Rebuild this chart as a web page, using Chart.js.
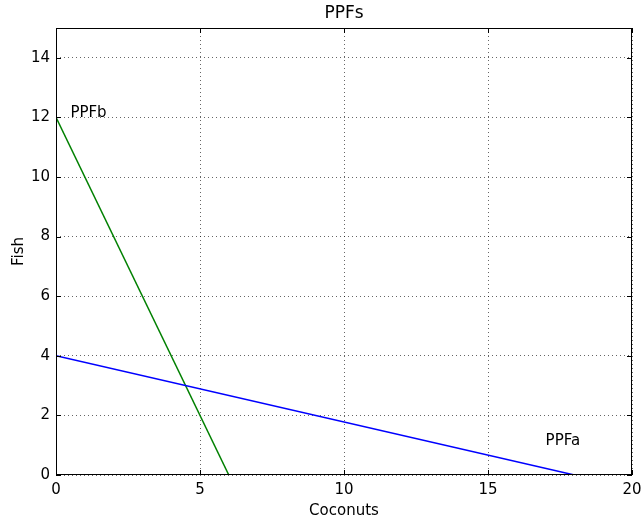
<!DOCTYPE html>
<html>
<head>
<meta charset="utf-8">
<script src="https://cdn.jsdelivr.net/npm/chart.js@4"></script>
<style>
  html, body { margin: 0; padding: 0; background: #fff; }
  canvas { display: block; }
</style>
</head>
<body>
<canvas id="chartPPF" width="644" height="521"></canvas>
<script>
// datos
const ppfaX = [0, 18]
const ppfaY = [4, 0]
const ppfbX = [0, 6]
const ppfbY = [12, 0]
const xTicks = [0, 5, 10, 15, 20]
const yTicks = [0, 2, 4, 6, 8, 10, 12, 14]
const notas = [
    { texto: 'PPFb', x: 0.5, y: 12 },
    { texto: 'PPFa', x: 17, y: 1 }
]

const fuente = 'DejaVu Sans'
const toPoints = (xs, ys) => xs.map((x, i) => ({ x: x, y: ys[i] }))

// marco, ticks hacia adentro, titulo y notas
const marcoPlugin = {
    id: 'marco',
    afterDatasetsDraw(chart) {
        const { ctx, chartArea: a, scales } = chart
        ctx.save()
        ctx.strokeStyle = '#000'
        ctx.lineWidth = 1
        ctx.strokeRect(a.left + 0.5, a.top + 0.5, a.right - a.left - 1, a.bottom - a.top - 1)

        const largo = 5
        ctx.beginPath()
        xTicks.forEach(v => {
            const px = Math.round(scales.x.getPixelForValue(v)) + 0.5
            ctx.moveTo(px, a.bottom); ctx.lineTo(px, a.bottom - largo)
            ctx.moveTo(px, a.top); ctx.lineTo(px, a.top + largo)
        })
        yTicks.forEach(v => {
            const py = Math.round(scales.y.getPixelForValue(v)) + 0.5
            ctx.moveTo(a.left, py); ctx.lineTo(a.left + largo, py)
            ctx.moveTo(a.right, py); ctx.lineTo(a.right - largo, py)
        })
        ctx.stroke()

        ctx.fillStyle = '#000'
        ctx.font = `15px "${fuente}"`
        ctx.textAlign = 'left'
        ctx.textBaseline = 'alphabetic'
        notas.forEach(n => {
            ctx.fillText(n.texto, scales.x.getPixelForValue(n.x), scales.y.getPixelForValue(n.y))
        })

        ctx.font = `17px "${fuente}"`
        ctx.textAlign = 'center'
        ctx.textBaseline = 'middle'
        ctx.fillText('PPFs', (a.left + a.right) / 2, 14)
        ctx.restore()
    }
}

const canvas = document.getElementById('chartPPF')
const context = canvas.getContext('2d')

const chartPPF = new Chart(context, {
    type: 'scatter',
    data: {
        datasets: [
            {
                label: 'PPFa',
                data: toPoints(ppfaX, ppfaY),
                showLine: true,
                borderColor: '#0000ff',
                borderWidth: 1.5,
                pointRadius: 0,
                fill: false
            },
            {
                label: 'PPFb',
                data: toPoints(ppfbX, ppfbY),
                showLine: true,
                borderColor: '#008000',
                borderWidth: 1.5,
                pointRadius: 0,
                fill: false
            }
        ]
    },
    options: {
        responsive: false,
        animation: false,
        layout: { padding: { top: 28, right: 12, left: 0, bottom: 0 } },
        plugins: {
            legend: { display: false },
            title: { display: false },
            tooltip: { enabled: false }
        },
        scales: {
            x: {
                type: 'linear',
                min: 0,
                max: 20,
                afterBuildTicks: s => { s.ticks = xTicks.map(v => ({ value: v })) },
                afterFit: s => {
                    s.height = 46
                    s.paddingLeft = 0
                    s.paddingRight = 0
                },
                border: { display: false, dash: [1, 3] },
                grid: {
                    color: 'rgba(0,0,0,0.6)',
                    lineWidth: 1,
                    drawTicks: false
                },
                ticks: {
                    color: '#000',
                    padding: 6,
                    maxRotation: 0,
                    font: { family: fuente, size: 15 }
                },
                title: {
                    display: true,
                    text: 'Coconuts',
                    color: '#000',
                    padding: { top: 0, bottom: 1 },
                    font: { family: fuente, size: 15 }
                }
            },
            y: {
                type: 'linear',
                min: 0,
                max: 15,
                afterBuildTicks: s => { s.ticks = yTicks.map(v => ({ value: v })) },
                afterFit: s => {
                    s.width = 56
                    s.paddingTop = 0
                    s.paddingBottom = 0
                },
                border: { display: false, dash: [1, 3] },
                grid: {
                    color: 'rgba(0,0,0,0.6)',
                    lineWidth: 1,
                    drawTicks: false
                },
                ticks: {
                    color: '#000',
                    padding: 6,
                    font: { family: fuente, size: 15 }
                },
                title: {
                    display: true,
                    text: 'Fish',
                    color: '#000',
                    padding: { top: 10, bottom: 0 },
                    font: { family: fuente, size: 15 }
                }
            }
        }
    },
    plugins: [marcoPlugin]
})
</script>
</body>
</html>
